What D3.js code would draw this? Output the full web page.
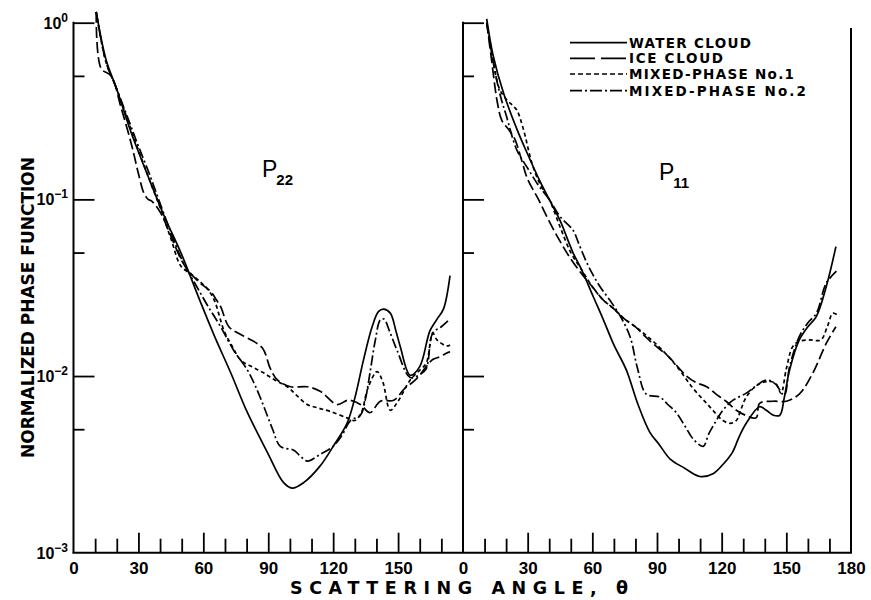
<!DOCTYPE html>
<html>
<head>
<meta charset="utf-8">
<script src="https://cdn.jsdelivr.net/npm/d3@7"></script>
<style>
  html, body { margin: 0; padding: 0; background: #fff; }
  svg { display: block; }
  text { font-family: "Liberation Sans", Arial, sans-serif; fill: #000; }
  text.wide { font-family: "DejaVu Sans", "Liberation Sans", sans-serif; font-weight: bold; }
</style>
</head>
<body>
<svg id="chart" width="871" height="600"></svg>
<script>
// ---------------- data (angle in degrees, normalized phase function) ----------------
const seriesNames = ["WATER CLOUD", "ICE CLOUD", "MIXED-PHASE No.1", "MIXED-PHASE No.2"];
const panelLabels = [["P", "22"], ["P", "11"]];
const xTickLabelsLeft = [0, 30, 60, 90, 120, 150];
const xTickLabelsRight = [0, 30, 60, 90, 120, 150, 180];
const yTickValues = [1, 0.1, 0.01, 0.001];
const yTickExponents = ["0", "-1", "-2", "-3"];
const yMinorValues = [0.5, 0.05, 0.005];

// P22 (left panel)
const p22Water = [[10.5,1.15],[15,0.62],[20,0.42],[26.6,0.24],[35,0.13],[42,0.08],[49.6,0.05],[58.8,0.026],[65,0.017],[72.7,0.0104],[80.4,0.0062],[89.6,0.0037],[97,0.0025],[101,0.00232],[106.5,0.0025],[114,0.0031],[120,0.0040],[126.4,0.0054],[130,0.0075],[134,0.0123],[138,0.019],[141,0.0232],[143.3,0.0239],[146.4,0.0227],[149,0.018],[151,0.0147],[155.6,0.0101],[160,0.0113],[164.7,0.018],[168,0.021],[171,0.024],[174,0.037]];
const p22Ice = [[10.5,1.15],[12.8,0.55],[17.4,0.5],[22,0.33],[27,0.2],[30,0.14],[32.6,0.108],[34.5,0.1],[36,0.098],[40,0.085],[45,0.062],[50,0.045],[52.7,0.04],[58,0.034],[63.5,0.030],[66,0.027],[68,0.0247],[71.8,0.019],[76,0.0175],[80.4,0.0164],[87.3,0.0144],[91,0.011],[94.2,0.0095],[100.3,0.0087],[108,0.0087],[114,0.0082],[121.8,0.0069],[127,0.0073],[132.6,0.0069],[137,0.0062],[141.8,0.0072],[148,0.0073],[153,0.0085],[158,0.0095],[163,0.0113],[166,0.0124],[169,0.0128],[172.5,0.0135],[174,0.0137]];
const p22Mixed1 = [[10.5,1.15],[15,0.6],[20,0.42],[26,0.26],[30,0.19],[35,0.13],[40,0.09],[45,0.06],[49.6,0.042],[54,0.038],[58.8,0.034],[62,0.031],[65,0.027],[69.6,0.018],[73,0.015],[77.3,0.0123],[83,0.0112],[88,0.0104],[93,0.0095],[98.8,0.0087],[103,0.0078],[108,0.0069],[113,0.0066],[118.7,0.0063],[126.4,0.0058],[130,0.0056],[133,0.0062],[136,0.0085],[140.3,0.0106],[143,0.0092],[146.4,0.0064],[150,0.0072],[155.6,0.0095],[160,0.0108],[163,0.0118],[166,0.0175],[168,0.016],[172.5,0.0148],[174,0.0150]];
const p22Mixed2 = [[10.5,1.15],[15,0.6],[20,0.42],[26,0.27],[30,0.2],[35,0.14],[40,0.095],[45,0.065],[49.6,0.047],[53,0.039],[57,0.032],[62,0.025],[68,0.019],[74,0.014],[80.4,0.0108],[84,0.0088],[88,0.0067],[92,0.005],[95.6,0.0040],[101.8,0.0038],[105,0.0035],[108,0.0033],[114,0.0036],[120,0.0040],[124,0.0046],[128,0.0056],[132.6,0.006],[135,0.0075],[137,0.0104],[139.5,0.016],[141.8,0.0208],[143.5,0.021],[146,0.018],[149.5,0.014],[155.6,0.0098],[160,0.0102],[163,0.011],[166,0.0175],[170,0.019],[174,0.021]];

// P11 (right panel)
const p11Water = [[11,1.05],[14,0.65],[18.8,0.40],[25,0.25],[30,0.18],[35.8,0.126],[40,0.1],[45,0.076],[51,0.05],[55,0.04],[60.5,0.028],[65,0.021],[70,0.015],[75.8,0.0108],[81,0.007],[86.7,0.0048],[91,0.0041],[96,0.0034],[103,0.003],[109.8,0.0027],[116,0.0028],[121,0.0032],[125,0.0037],[128,0.0045],[131.4,0.0054],[137.6,0.0067],[140.7,0.0064],[144,0.006],[147,0.006],[149,0.0075],[151.5,0.0108],[156,0.016],[160,0.019],[163.9,0.0217],[168.5,0.032],[173,0.054]];
const p11Ice = [[11,1.0],[13,0.65],[16,0.35],[18,0.28],[21,0.25],[24,0.22],[27,0.17],[30,0.13],[35,0.1],[40,0.075],[45,0.058],[50,0.046],[55,0.038],[60,0.032],[65,0.027],[70,0.024],[75,0.021],[80,0.019],[84,0.017],[88,0.0153],[95,0.013],[103.7,0.010],[108,0.0092],[113,0.0087],[118,0.0078],[122,0.0072],[126.8,0.0064],[131,0.006],[136,0.0058],[137.6,0.007],[143.8,0.0072],[150,0.0072],[156,0.0079],[162.3,0.0104],[168.5,0.0153],[173,0.019]];
const p11Mixed1 = [[11,1.0],[14,0.6],[17,0.42],[20,0.37],[23,0.34],[25,0.32],[28,0.25],[32,0.16],[36,0.12],[40,0.1],[45,0.07],[50,0.05],[55,0.04],[60,0.032],[65,0.027],[70,0.024],[75,0.021],[80,0.019],[85,0.017],[90,0.015],[95,0.013],[100,0.011],[106.8,0.0085],[114,0.0068],[120.6,0.0056],[124,0.0054],[126.8,0.0056],[129,0.0065],[131.4,0.0076],[136,0.0088],[140.7,0.0093],[145,0.0091],[147.5,0.008],[150,0.011],[153,0.0147],[156,0.0157],[161,0.016],[166,0.016],[169,0.019],[171.6,0.0227],[174,0.022]];
const p11Mixed2 = [[11,1.0],[14,0.6],[17,0.4],[20,0.3],[25,0.19],[30,0.15],[35,0.12],[40,0.1],[45,0.08],[51,0.067],[54,0.055],[57,0.045],[60,0.038],[63.6,0.032],[68,0.027],[72.8,0.022],[77.5,0.0167],[81,0.011],[85,0.0079],[91.3,0.0076],[95,0.0069],[99,0.0062],[103,0.0052],[106.8,0.0044],[111.4,0.0040],[114,0.0047],[117.5,0.0056],[121,0.0065],[125.3,0.0073],[131.4,0.0080],[136,0.0088],[140.7,0.0095],[145,0.009],[149,0.0078],[151.5,0.0113],[156,0.0167],[160,0.02],[164,0.0227],[168.5,0.0335],[174,0.04]];

// ---------------- styles ----------------
const curveDash = [null, "11,4", "4,3", "10,3,2,3"];
const legendDash = [null, "25,6", "5,3", "12,3,2,3"];
const legendTextLen = [122, 94, 165, 177];

// ---------------- layout ----------------
const svg = d3.select("#chart");
const yTop = 22.7, yBot = 552.7;
const y = d3.scaleLog().domain([1e-3, 1]).range([yBot, yTop]);
const xL = d3.scaleLinear().domain([0, 180]).range([73.5, 463]);
const xR = d3.scaleLinear().domain([0, 180]).range([463, 851]);

const panels = [
  { x: xL, data: [p22Water, p22Ice, p22Mixed1, p22Mixed2], labels: xTickLabelsLeft, plabel: panelLabels[0], pPos: [262, 177] },
  { x: xR, data: [p11Water, p11Ice, p11Mixed1, p11Mixed2], labels: xTickLabelsRight, plabel: panelLabels[1], pPos: [659, 180] }
];

const frameW = 2;
svg.append("line").attr("x1", xL(0)).attr("x2", xL(0)).attr("y1", yTop - 1).attr("y2", yBot)
  .attr("stroke", "#000").attr("stroke-width", frameW);
svg.append("line").attr("x1", xL(0) - 1).attr("x2", xR(180) + 1).attr("y1", yBot).attr("y2", yBot)
  .attr("stroke", "#000").attr("stroke-width", frameW);
svg.append("line").attr("x1", xR(0)).attr("x2", xR(0)).attr("y1", yTop - 1).attr("y2", yBot)
  .attr("stroke", "#000").attr("stroke-width", frameW);
svg.append("line").attr("x1", xR(180)).attr("x2", xR(180)).attr("y1", 28).attr("y2", yBot)
  .attr("stroke", "#000").attr("stroke-width", frameW);

panels.forEach((p, pi) => {
  const x = p.x;
  const majors = d3.range(30, 180, 30);
  const minors = d3.range(10, 180, 10).filter(d => d % 30 !== 0);
  const gMaj = svg.append("g").attr("transform", `translate(0,${yBot})`)
    .call(d3.axisBottom(x).tickValues(majors).tickSizeInner(-20).tickSizeOuter(0).tickFormat(""));
  const gMin = svg.append("g").attr("transform", `translate(0,${yBot})`)
    .call(d3.axisBottom(x).tickValues(minors).tickSizeInner(-14).tickSizeOuter(0).tickFormat(""));
  [gMaj, gMin].forEach(g => {
    g.select(".domain").remove();
    g.selectAll(".tick line").attr("stroke", "#000").attr("stroke-width", 1.8);
  });
  const gLab = svg.append("g").attr("transform", `translate(0,${yBot})`)
    .call(d3.axisBottom(x).tickValues(p.labels).tickSize(0).tickPadding(0).tickFormat(d3.format("d")));
  gLab.select(".domain").remove();
  gLab.selectAll(".tick text").attr("y", 21.5).attr("dy", null)
    .style("font-family", "'Liberation Sans', Arial, sans-serif")
    .style("font-size", "17px").style("font-weight", "bold").attr("fill", "#000");

  const gy = svg.append("g").attr("transform", `translate(${x(0)},0)`)
    .call(d3.axisLeft(y).tickValues([1, 0.1, 0.01]).tickSizeInner(-21).tickSizeOuter(0).tickFormat(""));
  const gy2 = svg.append("g").attr("transform", `translate(${x(0)},0)`)
    .call(d3.axisLeft(y).tickValues(yMinorValues).tickSizeInner(-11).tickSizeOuter(0).tickFormat(""));
  [gy, gy2].forEach(g => {
    g.select(".domain").remove();
    g.selectAll(".tick line").attr("stroke", "#000").attr("stroke-width", 1.8);
  });

  const line = d3.line().x(d => x(d[0])).y(d => y(d[1])).curve(d3.curveCatmullRom.alpha(0.5));
  p.data.forEach((ser, si) => {
    svg.append("path").datum(ser).attr("d", line)
      .attr("fill", "none").attr("stroke", "#000").attr("stroke-width", 1.7)
      .attr("stroke-linejoin", "round")
      .attr("stroke-dasharray", curveDash[si]);
  });

  const t = svg.append("text").attr("x", p.pPos[0]).attr("y", p.pPos[1]);
  t.append("tspan").text(p.plabel[0]).style("font-size", "23px");
  t.append("tspan").text(p.plabel[1]).attr("dy", 8).attr("dx", -1)
    .style("font-size", "15px").style("font-weight", "bold");
});

// y tick labels (left only)
yTickValues.forEach((v, i) => {
  const t = svg.append("text").attr("x", 68).attr("y", y(v) + 6).attr("text-anchor", "end")
    .style("font-weight", "bold");
  t.append("tspan").text("10").style("font-size", "16px");
  t.append("tspan").text(yTickExponents[i].replace("-", "\u2212")).attr("dy", -7).style("font-size", "12px");
});

// axis titles
svg.append("text").attr("class", "wide").attr("x", 290).attr("y", 594)
  .attr("textLength", 338).attr("lengthAdjust", "spacing")
  .style("font-size", "17.5px")
  .text("SCATTERING  ANGLE,  \u03B8");
svg.append("text").attr("class", "wide").attr("transform", "translate(33.5,458) rotate(-90)")
  .attr("textLength", 301).attr("lengthAdjust", "spacing")
  .style("font-size", "17px")
  .text("NORMALIZED  PHASE  FUNCTION");

// legend
const legendY = [42.7, 58.3, 74, 90.7];
seriesNames.forEach((name, i) => {
  svg.append("line").attr("x1", 570).attr("x2", 627).attr("y1", legendY[i]).attr("y2", legendY[i])
    .attr("stroke", "#000").attr("stroke-width", 1.7).attr("stroke-dasharray", legendDash[i]);
  svg.append("text").attr("class", "wide").attr("x", 629).attr("y", legendY[i] + 5)
    .attr("textLength", legendTextLen[i]).attr("lengthAdjust", "spacing")
    .style("font-size", "13.5px").text(name);
});
</script>
</body>
</html>
